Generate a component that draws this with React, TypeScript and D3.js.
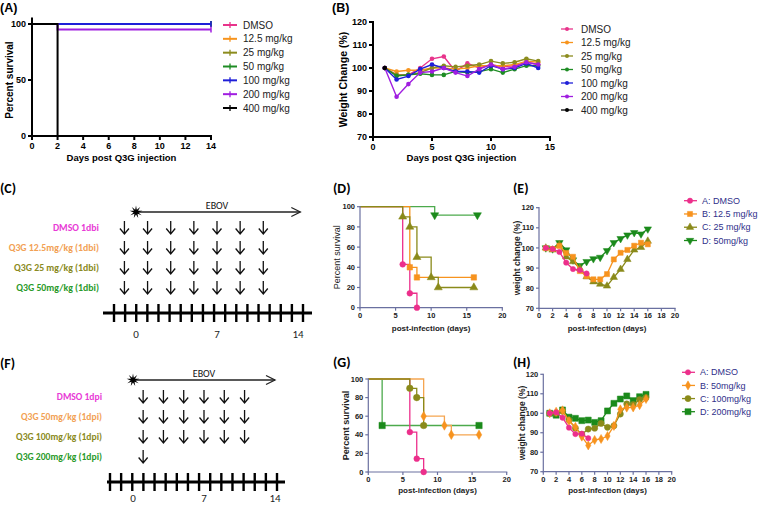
import React from 'react';
import * as d3 from 'd3';

const ARIAL = 'Arial, "Liberation Sans", Helvetica, sans-serif';
const CALI = 'Carlito, Lato, "Open Sans", sans-serif';

type Pt = [number, number];

// ===== Panel A & B =====
const abGroups = ['DMSO', '12.5 mg/kg', '25 mg/kg', '50 mg/kg', '100 mg/kg', '200 mg/kg', '400 mg/kg'];
const abColors = ['#e8338b', '#f7941d', '#8c8c1e', '#1e8c24', '#1f1fd8', '#a01ee0', '#000000'];
const aDayTicks = [0, 2, 4, 6, 8, 10, 12, 14];
const aPercentTicks = [0, 50, 100];
const aSurvival: Pt[][] = [
  [[0, 100], [14, 100]],
  [[0, 100], [14, 100]],
  [[0, 100], [14, 100]],
  [[0, 100], [14, 100]],
  [[0, 100], [14, 100]],
  [[0, 100], [2, 95], [14, 95]],
  [[0, 100], [2, 0]],
];
const aCensored = [true, true, true, true, true, true, false];

const bDayTicks = [0, 5, 10, 15];
const bWeightTicks = [70, 80, 90, 100, 110, 120];
const bDays = [1, 2, 3, 4, 5, 6, 7, 8, 9, 10, 11, 12, 13, 14];
const bDMSO = [100, 97, 97, 100, 104, 105, 98.5, 102, 100, 101.5, 100.5, 101, 102.5, 101.5];
const b125 = [100, 98.5, 99, 99, 100, 100, 99.5, 100, 101, 101, 101, 101.5, 103, 102.5];
const b25 = [100, 97, 97, 98, 100, 101, 100.5, 101, 101.5, 103, 102, 102.5, 104, 103];
const b50 = [100, 96.5, 97, 97.5, 97, 97, 98.5, 98, 98.5, 99.5, 98, 99.5, 101, 101];
const b100 = [100, 95, 96.5, 99.5, 101.5, 100, 98.5, 98.5, 98, 101, 99.5, 100, 102, 100];
const b200 = [100, 87.5, 93, 98, 98.5, 100, 98, 96.5, 99.5, 101.5, 99.5, 100.5, 102.5, 101.5];
const b400 = [100];
const bWeights = [bDMSO, b125, b25, b50, b100, b200, b400];

// ===== Schematics C & F =====
const cLabels = ['DMSO 1dbi', 'Q3G 12.5mg/kg (1dbi)', 'Q3G 25 mg/kg (1dbi)', 'Q3G 50mg/kg (1dbi)'];
const cDoseDays = [
  [-1, 1, 3, 5, 7, 9, 11],
  [-1, 1, 3, 5, 7, 9, 11],
  [-1, 1, 3, 5, 7, 9, 11],
  [-1, 1, 3, 5, 7, 9, 11],
];
const fLabels = ['DMSO 1dpi', 'Q3G 50mg/kg (1dpi)', 'Q3G 100mg/kg (1dpi)', 'Q3G 200mg/kg (1dpi)'];
const fDoseDays = [
  [1, 3, 5, 7, 9, 11],
  [1, 3, 5, 7, 9, 11],
  [1, 3, 5, 7, 9, 11],
  [1],
];
const schemeColors = ['#e83ad6', '#f2a154', '#8a8a22', '#2a9a2a'];
const schemeDayLabels = [0, 7, 14];

// ===== Survival D & G =====
const kmColors = ['#ec2f8b', '#f7931e', '#8a8a1a', '#1b8a1b'];
const kmLineColorsD = ['#ec2f8b', '#f7931e', '#8a8a1a', '#4caa4c'];
const kmLineColorsG = ['#ec2f8b', '#f5a550', '#8a8a1a', '#4caa4c'];
const dSurvival: Pt[][] = [
  [[0, 100], [6, 42.9], [7, 14.3], [8, 0]],
  [[0, 100], [7, 40], [8, 30], [16, 30]],
  [[0, 100], [6, 90], [7, 80], [8, 50], [10, 30], [11, 20], [16, 20]],
  [[0, 100], [10.5, 91.7], [16.5, 91.7]],
];
const gSurvival: Pt[][] = [
  [[0, 100], [6, 42.9], [7, 14.3], [8, 0]],
  [[0, 100], [8, 60], [11, 50], [12, 40], [16, 40]],
  [[0, 100], [6, 90], [7, 80], [8, 50]],
  [[0, 100], [2, 50], [16, 50]],
];
const survXTicks = [0, 5, 10, 15, 20];
const survYTicks = [0, 20, 40, 60, 80, 100];

// ===== Weight E & H =====
const wDays = [1, 2, 3, 4, 5, 6, 7, 8, 9, 10, 11, 12, 13, 14, 15, 16];
const eLegend = ['A: DMSO', 'B: 12.5 mg/kg', 'C: 25 mg/kg', 'D: 50mg/kg'];
const eDMSO = [100, 99.5, 98, 92.7, 89.5, 89, 87.3];
const eB = [99.8, 99.5, 101, 97.5, 95.6, 88.5, 86, 84.4, 84.4, 87, 94.3, 97.6, 99, 101.1, 102.6, 101.8];
const eC = [100, 99, 101.5, 95.6, 93.2, 89.9, 85.7, 83.2, 82, 81.1, 85.4, 89.4, 94.3, 99, 100.3, 103.4];
const eD = [100, 99.5, 102.6, 99, 94, 91.2, 93.2, 94.6, 95.3, 98.6, 102.6, 104.6, 106.4, 107.6, 106.9, 109.4];
const hLegend = ['A: DMSO', 'B: 50mg/kg', 'C: 100mg/kg', 'D: 200mg/kg'];
const hDMSO = [100, 100.5, 97.7, 92.6, 89.3, 89.5, 87.2];
const hB = [100, 100.8, 101.5, 96, 93, 88, 83.5, 86.3, 86.8, 88.3, 93.5, 102, 102.9, 103, 104.2, 107.3];
const hC = [100, 100, 101, 96.5, 92.3, 89.2, 91.9, 92.3, 94.8, 92.8, 93.6, 99.6, 104.8, 104.5, 107, 108];
const hD = [100, 99, 101.7, 98, 97.4, 96.2, 96.5, 95.3, 96.2, 101.2, 105.1, 107.3, 108.9, 106.5, 108.5, 109.7];
const wXTicks = [0, 2, 4, 6, 8, 10, 12, 14, 16, 18, 20];
const wYTicks = [70, 80, 90, 100, 110, 120];
const legendTextColor = '#30308a';

type AxOpt = { stroke: string; sw: number; fs: number; weight: string | number; fill: string; tl: number };

function XAxis({ scale, y, ticks, o, gap }: any) {
  const [a, b] = scale.range();
  return (
    <g>
      <line x1={a} x2={b} y1={y} y2={y} stroke={o.stroke} strokeWidth={o.sw} strokeLinecap="square" />
      {ticks.map((t: number) => (
        <g key={t}>
          <line x1={scale(t)} x2={scale(t)} y1={y} y2={y + o.tl} stroke={o.stroke} strokeWidth={o.sw} />
          <text x={scale(t)} y={y + o.tl + gap} textAnchor="middle" fontSize={o.fs} fontWeight={o.weight}
            fill={o.fill} fontFamily={ARIAL}>{t}</text>
        </g>
      ))}
    </g>
  );
}

function YAxis({ scale, x, ticks, o, gap, top }: any) {
  const [a, b] = scale.range();
  return (
    <g>
      <line x1={x} x2={x} y1={a} y2={top ?? b} stroke={o.stroke} strokeWidth={o.sw} strokeLinecap="square" />
      {ticks.map((t: number) => (
        <g key={t}>
          <line x1={x - o.tl} x2={x} y1={scale(t)} y2={scale(t)} stroke={o.stroke} strokeWidth={o.sw} />
          <text x={x - o.tl - gap} y={scale(t)} dy="0.35em" textAnchor="end" fontSize={o.fs} fontWeight={o.weight}
            fill={o.fill} fontFamily={ARIAL}>{t}</text>
        </g>
      ))}
    </g>
  );
}

function sym(type: any, size: number, rotate = 0) {
  return { d: d3.symbol().type(type).size(size)() as string, rotate };
}

function Marker({ x, y, s, color }: any) {
  return <path d={s.d} transform={`translate(${x},${y}) rotate(${s.rotate})`} fill={color} stroke={color} strokeWidth={0.5} />;
}

function PanelLabel({ x, y, text, font, size }: any) {
  return <text x={x} y={y} fontSize={size} fontWeight="bold" fontFamily={font} fill="#000">{text}</text>;
}

function PanelA() {
  const x = d3.scaleLinear().domain([0, 14]).range([32, 211]);
  const y = d3.scaleLinear().domain([0, 100]).range([136, 24]);
  const o: AxOpt = { stroke: '#000', sw: 2, fs: 9, weight: 'bold', fill: '#000', tl: 4 };
  const line = d3.line<Pt>().x(d => x(d[0])).y(d => y(d[1])).curve(d3.curveStepAfter);
  const lx = d3.scaleLinear().domain([0, 1]).range([223, 237]);
  const ly = d3.scaleLinear().domain([0, 6]).range([25, 108]);
  return (
    <g>
      <PanelLabel x={0} y={12} text="(A)" font={ARIAL} size={12.5} />
      {aSurvival.map((s, i) => (
        <g key={i}>
          <path d={line(s) as string} fill="none" stroke={abColors[i]} strokeWidth={2} />
          {aCensored[i] && (
            <line x1={x(s[s.length - 1][0])} x2={x(s[s.length - 1][0])} y1={y(s[s.length - 1][1]) - 3}
              y2={y(s[s.length - 1][1]) + 3} stroke={abColors[i]} strokeWidth={1.5} />
          )}
        </g>
      ))}
      <XAxis scale={x} y={136} ticks={aDayTicks} o={o} gap={8.5} />
      <YAxis scale={y} x={32} ticks={aPercentTicks} o={o} gap={2} top={y(105)} />
      <text x={(x(0) + x(14)) / 2} y={161} textAnchor="middle" fontSize={9.5} fontWeight="bold" fontFamily={ARIAL}>
        Days post Q3G injection
      </text>
      <text transform={`translate(13,${(y(0) + y(100)) / 2}) rotate(-90)`} textAnchor="middle" fontSize={10}
        fontWeight="bold" fontFamily={ARIAL}>Percent survival</text>
      {abGroups.map((g, i) => (
        <g key={g}>
          <line x1={lx(0)} x2={lx(1)} y1={ly(i)} y2={ly(i)} stroke={abColors[i]} strokeWidth={2} />
          <line x1={lx(0.5)} x2={lx(0.5)} y1={ly(i) - 3} y2={ly(i) + 3} stroke={abColors[i]} strokeWidth={1.3} />
          <text x={243} y={ly(i)} dy="0.35em" fontSize={10} fontFamily={ARIAL} fill="#222">{g}</text>
        </g>
      ))}
    </g>
  );
}

function PanelB() {
  const x = d3.scaleLinear().domain([0, 15]).range([373, 550]);
  const y = d3.scaleLinear().domain([70, 120]).range([137, 22]);
  const o: AxOpt = { stroke: '#000', sw: 2, fs: 9, weight: 'bold', fill: '#000', tl: 4 };
  const line = d3.line<number>().x((d, i) => x(bDays[i])).y(d => y(d));
  const lx = d3.scaleLinear().domain([0, 1]).range([561, 573]);
  const ly = d3.scaleLinear().domain([0, 6]).range([29, 110]);
  return (
    <g>
      <PanelLabel x={332} y={12} text="(B)" font={ARIAL} size={12.5} />
      {bWeights.map((w, i) => (
        <g key={i}>
          <path d={line(w) as string} fill="none" stroke={abColors[i]} strokeWidth={1.4} />
          {w.map((v, j) => <circle key={j} cx={x(bDays[j])} cy={y(v)} r={2.3} fill={abColors[i]} />)}
        </g>
      ))}
      <XAxis scale={x} y={137} ticks={bDayTicks} o={o} gap={8.5} />
      <YAxis scale={y} x={373} ticks={bWeightTicks} o={o} gap={2} />
      <text x={(x(0) + x(15)) / 2} y={161} textAnchor="middle" fontSize={9.5} fontWeight="bold" fontFamily={ARIAL}>
        Days post Q3G injection
      </text>
      <text transform={`translate(347,${(y(70) + y(120)) / 2}) rotate(-90)`} textAnchor="middle" fontSize={10.5}
        fontWeight="bold" fontFamily={ARIAL}>Weight Change  (%)</text>
      {abGroups.map((g, i) => (
        <g key={g}>
          <line x1={lx(0)} x2={lx(1)} y1={ly(i)} y2={ly(i)} stroke={abColors[i]} strokeWidth={1.3} />
          <circle cx={lx(0.5)} cy={ly(i)} r={2} fill={abColors[i]} />
          <text x={581} y={ly(i)} dy="0.35em" fontSize={10} fontFamily={ARIAL} fill="#222">{g}</text>
        </g>
      ))}
    </g>
  );
}

function starPath(cx: number, cy: number) {
  const n = 9;
  const pts: Pt[] = d3.range(n * 2).map(i => {
    const a = (i * Math.PI) / n;
    const r = i % 2 ? 2.4 : 6.5;
    return [cx + r * Math.sin(a), cy - r * Math.cos(a)];
  });
  return (d3.line()(pts) as string) + 'Z';
}

function Scheme({ label, labelY, day, tick, tickCount, lineX, starY, arrowEndDay, rowY, labels, doses, tlY, numY, labelX, labelFs }: any) {
  const ebX = day(7);
  const endX = day(arrowEndDay);
  return (
    <g>
      <PanelLabel x={0} y={labelY} text={label} font={CALI} size={14} />
      <line x1={day(0)} x2={endX} y1={starY} y2={starY} stroke="#222" strokeWidth={1.3} />
      <path d={`M${endX - 9},${starY - 4.5}L${endX},${starY}L${endX - 9},${starY + 4.5}`} fill="none" stroke="#222" strokeWidth={1.3} />
      <path d={starPath(day(0), starY)} fill="#000" />
      <text x={ebX} y={starY - 3.5} textAnchor="middle" fontSize={10} fontFamily={CALI} fill="#111">EBOV</text>
      {labels.map((l: string, i: number) => (
        <g key={l}>
          <text x={labelX} y={rowY(i)} dy="0.35em" textAnchor="end" fontSize={labelFs} fontWeight="bold" fontFamily={CALI}
            fill={schemeColors[i]}>{l}</text>
          {doses[i].map((d: number) => (
            <path key={d} d={`M${day(d)},${rowY(i) - 7}L${day(d)},${rowY(i) + 6}M${day(d) - 4.5},${rowY(i) + 0.5}L${day(d)},${rowY(i) + 6}L${day(d) + 4.5},${rowY(i) + 0.5}`}
              fill="none" stroke="#111" strokeWidth={1.3} />
          ))}
        </g>
      ))}
      <line x1={lineX[0]} x2={lineX[1]} y1={tlY} y2={tlY} stroke="#000" strokeWidth={3} />
      {d3.range(tickCount).map(i => (
        <line key={i} x1={tick(i)} x2={tick(i)} y1={tlY - 9} y2={tlY + 9} stroke="#000" strokeWidth={2.4} />
      ))}
      {schemeDayLabels.map(d => (
        <text key={d} x={day(d)} y={numY} textAnchor="middle" fontSize={11} fontFamily={CALI} fill="#222">{d}</text>
      ))}
    </g>
  );
}

function KM({ label, lx, ly, xr, yr, data, lineColors, symbols, xTitleY, yTitleX, yBold }: any) {
  const x = d3.scaleLinear().domain([0, 20]).range(xr);
  const y = d3.scaleLinear().domain([0, 100]).range(yr);
  const o: AxOpt = { stroke: '#6a70a0', sw: 1.2, fs: 7.5, weight: 'bold', fill: '#222', tl: 3 };
  const line = d3.line<Pt>().x(d => x(d[0])).y(d => y(d[1])).curve(d3.curveStepAfter);
  const order = [3, 0, 1, 2];
  return (
    <g>
      <PanelLabel x={lx} y={ly} text={label} font={CALI} size={14} />
      {order.map(i => (
        <path key={'l' + i} d={line(data[i]) as string} fill="none" stroke={lineColors[i]} strokeWidth={1.3} />
      ))}
      <XAxis scale={x} y={yr[0]} ticks={survXTicks} o={o} gap={7} />
      <YAxis scale={y} x={xr[0]} ticks={survYTicks} o={o} gap={2} />
      {order.map(i => data[i].slice(1).map((p: Pt, j: number) => (
        <Marker key={i + '-' + j} x={x(p[0])} y={y(p[1])} s={symbols[i]} color={kmColors[i]} />
      )))}
      <text x={(xr[0] + xr[1]) / 2} y={xTitleY} textAnchor="middle" fontSize={8} fontWeight="bold" fontFamily={ARIAL} fill="#222">
        post-infection (days)
      </text>
      <text transform={`translate(${yTitleX},${(yr[0] + yr[1]) / 2}) rotate(-90)`} textAnchor="middle" fontSize={9}
        fontWeight={yBold ? 'bold' : 'normal'} fontFamily={ARIAL} fill="#222">Percent survival</text>
    </g>
  );
}

function Weight({ label, lx, ly, xr, yr, series, symbols, legend, legX, legY, xTitleY, yTitleX }: any) {
  const x = d3.scaleLinear().domain([0, 20]).range(xr);
  const y = d3.scaleLinear().domain([70, 120]).range(yr);
  const o: AxOpt = { stroke: '#6a70a0', sw: 1.2, fs: 7.5, weight: 'bold', fill: '#222', tl: 3 };
  const line = d3.line<number>().x((d, i) => x(wDays[i])).y(d => y(d));
  const order = [3, 2, 1, 0];
  return (
    <g>
      <PanelLabel x={lx} y={ly} text={label} font={CALI} size={14} />
      {order.map(i => (
        <g key={i}>
          <path d={line(series[i]) as string} fill="none" stroke={kmColors[i]} strokeWidth={1.3} />
          {series[i].map((v: number, j: number) => (
            <Marker key={j} x={x(wDays[j])} y={y(v)} s={symbols[i]} color={kmColors[i]} />
          ))}
        </g>
      ))}
      <XAxis scale={x} y={yr[0]} ticks={wXTicks} o={o} gap={7} />
      <YAxis scale={y} x={xr[0]} ticks={wYTicks} o={o} gap={2} />
      <text x={(xr[0] + xr[1]) / 2} y={xTitleY} textAnchor="middle" fontSize={8} fontWeight="bold" fontFamily={ARIAL} fill="#222">
        post-infection (days)
      </text>
      <text transform={`translate(${yTitleX},${(yr[0] + yr[1]) / 2}) rotate(-90)`} textAnchor="middle" fontSize={8.5}
        fontWeight="bold" fontFamily={ARIAL} fill="#222">weight change (%)</text>
      {legend.map((t: string, i: number) => (
        <g key={t}>
          <line x1={legX - 6} x2={legX + 7} y1={legY(i)} y2={legY(i)} stroke={kmColors[i]} strokeWidth={1.3} />
          <Marker x={legX} y={legY(i)} s={symbols[i]} color={kmColors[i]} />
          <text x={legX + 12} y={legY(i)} dy="0.35em" fontSize={9} fontFamily={ARIAL} fill={legendTextColor}>{t}</text>
        </g>
      ))}
    </g>
  );
}

export default function App() {
  const symD = [sym(d3.symbolCircle, 26), sym(d3.symbolSquare, 30), sym(d3.symbolTriangle, 28), sym(d3.symbolTriangle, 28, 180)];
  const symG = [sym(d3.symbolCircle, 26), sym(d3.symbolDiamond, 26), sym(d3.symbolCircle, 34), sym(d3.symbolSquare, 40)];
  const symE = [sym(d3.symbolCircle, 22), sym(d3.symbolSquare, 26), sym(d3.symbolTriangle, 24), sym(d3.symbolTriangle, 24, 180)];
  const symH = [sym(d3.symbolCircle, 22), sym(d3.symbolDiamond, 24), sym(d3.symbolCircle, 30), sym(d3.symbolSquare, 36)];
  return (
    <svg width={760} height={505} style={{ position: 'fixed', left: 0, top: 0, background: '#fff' }}>
      <rect width={760} height={505} fill="#fff" />
      <PanelA />
      <PanelB />
      <Scheme label="(C)" labelY={193} day={d3.scaleLinear().domain([0, 14]).range([136, 298])}
        tick={d3.scaleLinear().domain([0, 17]).range([114, 303])} tickCount={18} lineX={[103, 312]}
        starY={212} arrowEndDay={14.2} rowY={d3.scaleLinear().domain([0, 3]).range([228, 288])}
        labels={cLabels} doses={cDoseDays} tlY={313} numY={338} labelX={99} labelFs={9.8} />
      <Scheme label="(F)" labelY={368} day={d3.scaleLinear().domain([0, 14]).range([133, 275])}
        tick={d3.scaleLinear().domain([0, 15]).range([110, 277])} tickCount={16} lineX={[107, 285]}
        starY={380} arrowEndDay={14} rowY={d3.scaleLinear().domain([0, 3]).range([397, 457])}
        labels={fLabels} doses={fDoseDays} tlY={482} numY={502} labelX={102} labelFs={9.6} />
      <KM label="(D)" lx={333} ly={193} xr={[360, 502.3]} yr={[307.7, 206.7]} data={dSurvival}
        lineColors={kmLineColorsD} symbols={symD} xTitleY={331} yTitleX={340} yBold={false} />
      <KM label="(G)" lx={333} ly={367} xr={[368.3, 506.7]} yr={[472, 379]} data={gSurvival}
        lineColors={kmLineColorsG} symbols={symG} xTitleY={493} yTitleX={349} yBold={true} />
      <Weight label="(E)" lx={513} ly={193} xr={[539, 675]} yr={[308.3, 207.7]} series={[eDMSO, eB, eC, eD]}
        symbols={symE} legend={eLegend} legX={690} legY={d3.scaleLinear().domain([0, 3]).range([200.7, 240.5])}
        xTitleY={331} yTitleX={520} />
      <Weight label="(H)" lx={513} ly={367} xr={[543.3, 671.7]} yr={[471.7, 374.3]} series={[hDMSO, hB, hC, hD]}
        symbols={symH} legend={hLegend} legX={688} legY={d3.scaleLinear().domain([0, 3]).range([372.3, 411.7])}
        xTitleY={493} yTitleX={525} />
    </svg>
  );
}
